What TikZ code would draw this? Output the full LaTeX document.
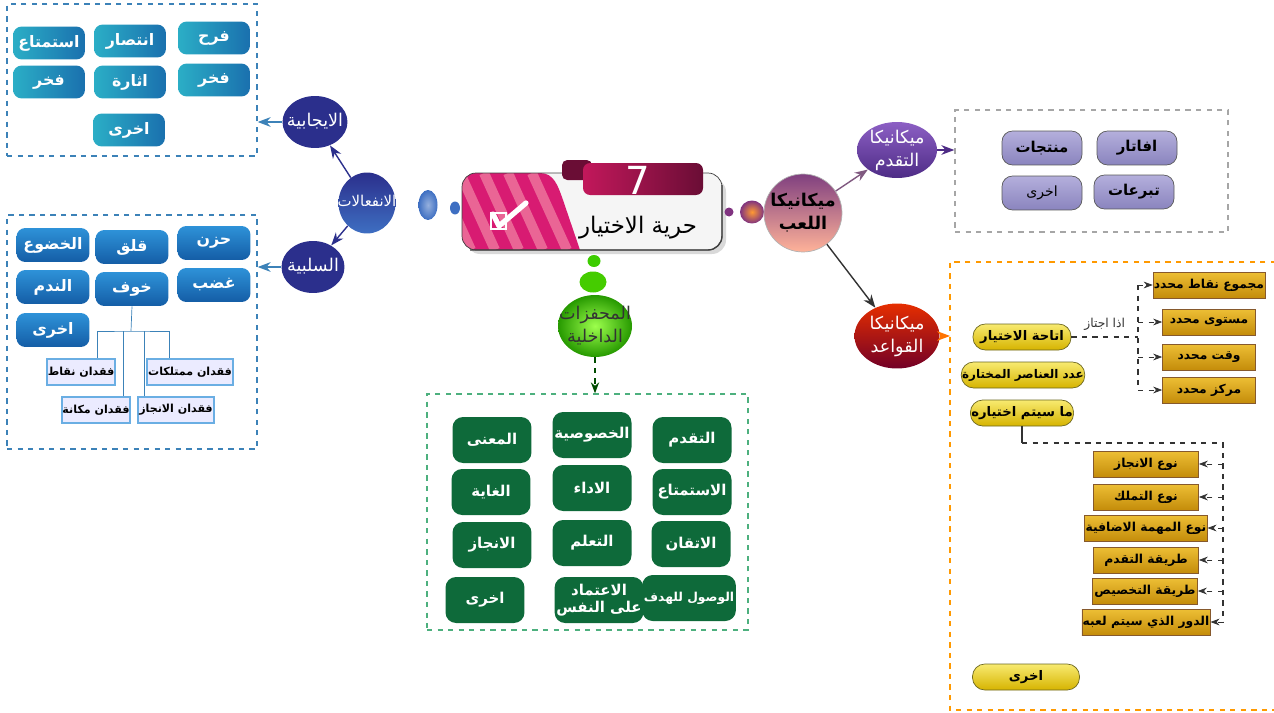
\documentclass[tikz,border=0pt]{standalone}
\usepackage{fontspec}
\newfontfamily\arabicfont[Script=Arabic]{DejaVu Sans}
\TeXXeTstate=1
\usetikzlibrary{positioning,arrows.meta,shapes.geometric,calc}
\newcommand{\arb}[1]{{\arabicfont\beginR #1\endR}}
% text that does not grow the ellipse round it
\newcommand{\ballone}[1]{\makebox[0pt]{\raisebox{-0.6ex}[0pt][0pt]{\arb{#1}}}}
\newcommand{\balltwo}[2]{\makebox[0pt]{\raisebox{-0.3em}[0pt][0pt]{\begin{tabular}{@{}c@{}}\arb{#1}\\[1pt]\arb{#2}\end{tabular}}}}
\definecolor{posleft}{HTML}{2BAEC6}
\definecolor{posright}{HTML}{1A70AE}
\definecolor{negtop}{HTML}{2E92D8}
\definecolor{negbot}{HTML}{145DA6}
\definecolor{frameblue}{HTML}{3C82B8}
\definecolor{navy}{HTML}{2B2F8C}
\definecolor{dotblue}{HTML}{3E6FC2}
\definecolor{greenbox}{HTML}{0E6A3A}
\definecolor{greenframe}{HTML}{4DB07E}
\definecolor{lavtop}{HTML}{B4AFDC}
\definecolor{lavbot}{HTML}{8A84BE}
\definecolor{progtop}{HTML}{8C5FC4}
\definecolor{progbot}{HTML}{4E2C86}
\definecolor{pilltop}{HTML}{F8EA70}
\definecolor{pillbot}{HTML}{D6B400}
\definecolor{goldtop}{HTML}{EDBF35}
\definecolor{goldbot}{HTML}{C48C0A}
\definecolor{titlepink}{HTML}{D81B72}
\definecolor{tabA}{HTML}{C2185B}
\definecolor{tabB}{HTML}{6A0D35}
\tikzset{
  posbox/.style={rounded corners=5pt, left color=posleft, right color=posright, text=white, minimum width=1.44cm, minimum height=0.66cm, inner sep=1pt, font=\bfseries\fontsize{9}{11}\selectfont},
  negbox/.style={rounded corners=5pt, top color=negtop, bottom color=negbot, text=white, minimum width=1.46cm, minimum height=0.68cm, inner sep=1pt, font=\bfseries\fontsize{9}{11}\selectfont},
  lossbox/.style={draw=cyan!70!blue!60, line width=1.2pt, fill=blue!8, minimum height=0.52cm, inner sep=0.5pt, font=\bfseries\fontsize{6.3}{8}\selectfont},
  greenbtn/.style={rounded corners=6pt, fill=greenbox, text=white, minimum width=1.58cm, minimum height=0.92cm, inner sep=1pt, align=center, font=\bfseries\fontsize{8.5}{10}\selectfont},
  lavbox/.style={rounded corners=6pt, top color=lavtop, bottom color=lavbot, draw=gray!70!black, minimum width=1.6cm, minimum height=0.68cm, inner sep=1pt, font=\bfseries\fontsize{8.5}{10}\selectfont},
  pillbox/.style={rounded corners=7pt, top color=pilltop, bottom color=pillbot, draw=olive!70!black, minimum width=1.96cm, minimum height=0.52cm, inner sep=0.5pt, font=\bfseries\fontsize{7.5}{9}\selectfont},
  goldbox/.style={top color=goldtop, bottom color=goldbot, draw=brown!70!black, minimum width=1.86cm, minimum height=0.52cm, inner sep=0.5pt, font=\bfseries\fontsize{7}{9}\selectfont},
  ball/.style={ellipse, inner sep=0pt, font=\fontsize{10}{12}\selectfont},
  dotnode/.style={ellipse, inner sep=0pt},
  frame/.style={draw, dashed, thick, inner sep=0pt},
  linkarrow/.style={-{Stealth[length=2.6mm]}, thick},
  tiparrow/.style={-{Stealth[length=1.8mm]}, dashed, gray!40!black},
  dashline/.style={dashed, thick, gray!40!black}
}
\begin{document}
\begin{tikzpicture}[x=0.02cm, y=-0.02cm]
  \useasboundingbox (0,0) rectangle (1274,713);
  % positive emotions
  \node[frame, draw=frameblue, minimum width=5cm, minimum height=3.04cm] (posframe) at (132,80) {};
  \node[posbox] (joy) at (214,38) {\arb{فرح}};
  \node[posbox] (victory) at (130,41) {\arb{انتصار}};
  \node[posbox] (enjoy) at (49,43) {\arb{استمتاع}};
  \node[posbox] (prideA) at (214,80) {\arb{فخر}};
  \node[posbox] (excite) at (130,82) {\arb{اثارة}};
  \node[posbox] (prideB) at (49,82) {\arb{فخر}};
  \node[posbox] (posother) at (129,130) {\arb{اخرى}};
  % negative emotions
  \node[frame, draw=frameblue, minimum width=5cm, minimum height=4.68cm] (negframe) at (132,332) {};
  \node[negbox] (sad) at (214,243) {\arb{حزن}};
  \node[negbox] (worry) at (132,247) {\arb{قلق}};
  \node[negbox] (submit) at (53,245) {\arb{الخضوع}};
  \node[negbox] (anger) at (214,285) {\arb{غضب}};
  \node[negbox] (fear) at (132,289) {\arb{خوف}};
  \node[negbox] (regret) at (53,287) {\arb{الندم}};
  \node[negbox] (negother) at (53,330) {\arb{اخرى}};
  \node[lossbox, minimum width=1.28cm] (lossPts) at (81,372) {\arb{فقدان نقاط}};
  \node[lossbox, minimum width=1.38cm] (lossOwn) at (190,372) {\arb{فقدان ممتلكات}};
  \node[lossbox, minimum width=1.36cm] (lossRank) at (96,410) {\arb{فقدان مكانة}};
  \node[lossbox, minimum width=1.3cm] (lossWin) at (176,410) {\arb{فقدان الانجاز}};
  \coordinate (fearjoin) at (131,331);
  \draw[frameblue] (fear.south) -- (fearjoin);
  \draw[frameblue] ([xshift=0.32cm]lossPts.north) |- (fearjoin) -| ([xshift=-0.42cm]lossOwn.north);
  \draw[frameblue] ([xshift=0.54cm]lossRank.north) -- ([xshift=0.54cm]lossRank.north |- fearjoin);
  \draw[frameblue] ([xshift=-0.64cm]lossWin.north) -- ([xshift=-0.64cm]lossWin.north |- fearjoin);
  % emotions hub
  \node[ball, top color=navy, bottom color=dotblue, text=white, font=\fontsize{8.5}{10}\selectfont, minimum width=1.14cm, minimum height=1.22cm] (emo) at (367,203) {\ballone{الانفعالات}};
  \node[ball, fill=navy, text=white, minimum width=1.3cm, minimum height=1.04cm] (pos) at (315,122) {\ballone{الايجابية}};
  \node[ball, fill=navy, text=white, minimum width=1.26cm, minimum height=1.04cm] (neg) at (313,267) {\ballone{السلبية}};
  \node[dotnode, inner color=dotblue!55!white, outer color=dotblue, minimum width=0.38cm, minimum height=0.6cm] (dotL1) at (428,205) {};
  \node[dotnode, fill=dotblue, minimum width=0.2cm, minimum height=0.26cm] (dotL2) at (455,208) {};
  \draw[linkarrow, navy] (emo) -- (pos);
  \draw[linkarrow, navy] (emo) -- (neg);
  \draw[linkarrow, frameblue] (pos) -- (pos -| posframe.east);
  \draw[linkarrow, frameblue] (neg) -- (neg -| negframe.east);
  % title card
  \fill[gray!30, rounded corners=8pt] (466,178) rectangle (726,254);
  \fill[gray!8, rounded corners=8pt] (462,173) rectangle (722,250);
  \begin{scope}
    \clip[rounded corners=8pt] (462,173) rectangle (722,250);
    \clip (462,173) -- (540,173) .. controls (554,173) and (558,186) .. (563,200) -- (580,250) -- (462,250) -- cycle;
    \fill[titlepink] (462,173) rectangle (600,250);
    \foreach \s in {0,24,48,72,96}
      \draw[line width=0.2cm, pink!45!titlepink] (436+\s,173) -- (471+\s,250);
  \end{scope}
  \draw[gray!50!black, rounded corners=8pt] (462,173) rectangle (722,250);
  \draw[gray!50!black, thick, rounded corners=8pt] (470,250) -- (722,250) -- (722,185);
  \draw[white, line width=1.3pt] (491,213) rectangle (506,229);
  \draw[white, line width=3pt, line cap=round, line join=round] (493,214) -- (499,226) -- (526,203);
  \fill[tabB, rounded corners=3pt] (562,160) rectangle (592,180);
  \shade[left color=tabA, right color=tabB, rounded corners=4pt] (583,163) rectangle (703,195);
  \node[text=white, font=\arabicfont\fontsize{22}{24}\selectfont] (titlenum) at (638,180) {7};
  \node[font=\fontsize{13}{15}\selectfont] (title) at (638,228) {\arb{حرية الاختيار}};
  % inner drives
  \node[dotnode, fill=green!60!lime!80!black, minimum width=0.26cm, minimum height=0.24cm] (dotG1) at (594,261) {};
  \node[dotnode, fill=green!55!lime!80!black, minimum width=0.54cm, minimum height=0.42cm] (dotG2) at (593,282) {};
  \node[ball, inner color=green!40!lime!70, outer color=green!50!black!80!lime, text=black!80, minimum width=1.48cm, minimum height=1.24cm] (drive) at (595,326) {\balltwo{المحفزات}{الداخلية}};
  \node[frame, draw=greenframe, minimum width=6.42cm, minimum height=4.72cm] (driveframe) at (587.5,512) {};
  \draw[-{Stealth[length=2.2mm]}, dashed, thick, green!30!black] (drive) -- (drive |- driveframe.north);
  \node[greenbtn] (progress) at (692,440) {\arb{التقدم}};
  \node[greenbtn] (privacy) at (592,435) {\arb{الخصوصية}};
  \node[greenbtn] (meaning) at (492,440) {\arb{المعنى}};
  \node[greenbtn] (fun) at (692,492) {\arb{الاستمتاع}};
  \node[greenbtn] (perform) at (592,488) {\arb{الاداء}};
  \node[greenbtn] (purpose) at (491,492) {\arb{الغاية}};
  \node[greenbtn] (mastery) at (691,544) {\arb{الاتقان}};
  \node[greenbtn] (learn) at (592,543) {\arb{التعلم}};
  \node[greenbtn] (achieve) at (492,545) {\arb{الانجاز}};
  \node[greenbtn, font=\bfseries\fontsize{7}{9}\selectfont] (goal) at (689,598) {\arb{الوصول للهدف}};
  \node[greenbtn, minimum width=1.7cm] (selfrely) at (599,600) {\arb{الاعتماد}\\\arb{على النفس}};
  \node[greenbtn] (driveother) at (485,600) {\arb{اخرى}};
  % game mechanics
  \node[dotnode, fill=violet!60!gray, minimum width=0.18cm, minimum height=0.18cm] (dotR1) at (729,212) {};
  \node[dotnode, inner color=orange!80, outer color=violet!60!gray, minimum width=0.48cm, minimum height=0.46cm] (dotR2) at (752,212) {};
  \node[ball, top color=violet!50!gray, bottom color=orange!50!red!40!white, draw=gray!60, font=\bfseries\fontsize{10}{12}\selectfont, minimum width=1.56cm, minimum height=1.56cm] (play) at (803,213) {\balltwo{ميكانيكا}{اللعب}};
  \node[ball, top color=progtop, bottom color=progbot, text=white, minimum width=1.6cm, minimum height=1.12cm] (prog) at (897,150) {\balltwo{ميكانيكا}{التقدم}};
  \node[ball, top color=red!60!orange!90!black, bottom color=purple!60!black, text=white, minimum width=1.7cm, minimum height=1.3cm] (rule) at (897,336) {\balltwo{ميكانيكا}{القواعد}};
  \draw[linkarrow, gray!70!violet] (play) -- (prog);
  \draw[linkarrow, gray!40!black] (play) -- (rule);
  % progress mechanics
  \node[frame, draw=gray!70, minimum width=5.46cm, minimum height=2.44cm] (progframe) at (1091.5,171) {};
  \draw[linkarrow, progbot] (prog) -- (prog -| progframe.west);
  \node[lavbox] (avatar) at (1137,148) {\arb{افاتار}};
  \node[lavbox] (goods) at (1042,148) {\arb{منتجات}};
  \node[lavbox] (donate) at (1134,192) {\arb{تبرعات}};
  \node[lavbox, font=\fontsize{8}{10}\selectfont] (progother) at (1042,193) {\arb{اخرى}};
  % rule mechanics
  \draw[dashed, thick, orange!80!yellow] (1276,262) -| (950,710) -- (1276,710);
  \coordinate (ruleframe) at (950,336);
  \draw[linkarrow, orange!90!red] (rule) -- (ruleframe);
  \node[pillbox] (choice) at (1022,337) {\arb{اتاحة الاختيار}};
  \node[pillbox, minimum width=2cm, font=\bfseries\fontsize{6.8}{8}\selectfont] (count) at (1023,375) {\arb{عدد العناصر المختارة}};
  \node[pillbox] (pick) at (1022,413) {\arb{ما سيتم اختياره}};
  \node[pillbox, minimum width=2.14cm] (ruleother) at (1026,677) {\arb{اخرى}};
  \node[goldbox] (ptsGoal) at (1209,285) {\arb{مجموع نقاط محدد}};
  \node[goldbox] (lvlGoal) at (1209,322) {\arb{مستوى محدد}};
  \node[goldbox] (timeGoal) at (1209,357) {\arb{وقت محدد}};
  \node[goldbox] (spotGoal) at (1209,390) {\arb{مركز محدد}};
  \coordinate (ifline) at (1138,337);
  \draw[dashline] (choice.east) -- node[above, text=gray!40!black, font=\fontsize{7}{8}\selectfont] (iflabel) {\arb{اذا اجتاز}} (ifline);
  \draw[dashline] (ptsGoal.west -| ifline) -- (spotGoal.west -| ifline);
  \foreach \g in {ptsGoal, lvlGoal, timeGoal, spotGoal}
    \draw[tiparrow] (\g.west -| ifline) -- (\g.west);
  \node[goldbox, minimum width=2.1cm] (winType) at (1146,464) {\arb{نوع الانجاز}};
  \node[goldbox, minimum width=2.1cm] (ownType) at (1146,497) {\arb{نوع التملك}};
  \node[goldbox, minimum width=2.1cm] (taskType) at (1146,528) {\arb{نوع المهمة الاضافية}};
  \node[goldbox, minimum width=2.1cm] (progWay) at (1146,560) {\arb{طريقة التقدم}};
  \node[goldbox, minimum width=2.1cm] (fitWay) at (1145,591) {\arb{طريقة التخصيص}};
  \node[goldbox, minimum width=2.26cm] (roleWay) at (1146,622) {\arb{الدور الذي سيتم لعبه}};
  \coordinate (picktop) at (1223,443);
  \draw[gray!40!black, thick] (pick.south) -- (pick.south |- picktop);
  \draw[dashline] (pick.south |- picktop) -- (picktop) -- (roleWay.east -| picktop);
  \foreach \g in {winType, ownType, taskType, progWay, fitWay, roleWay}
    \draw[tiparrow] (\g.east -| picktop) -- (\g.east);
\end{tikzpicture}
\end{document}
